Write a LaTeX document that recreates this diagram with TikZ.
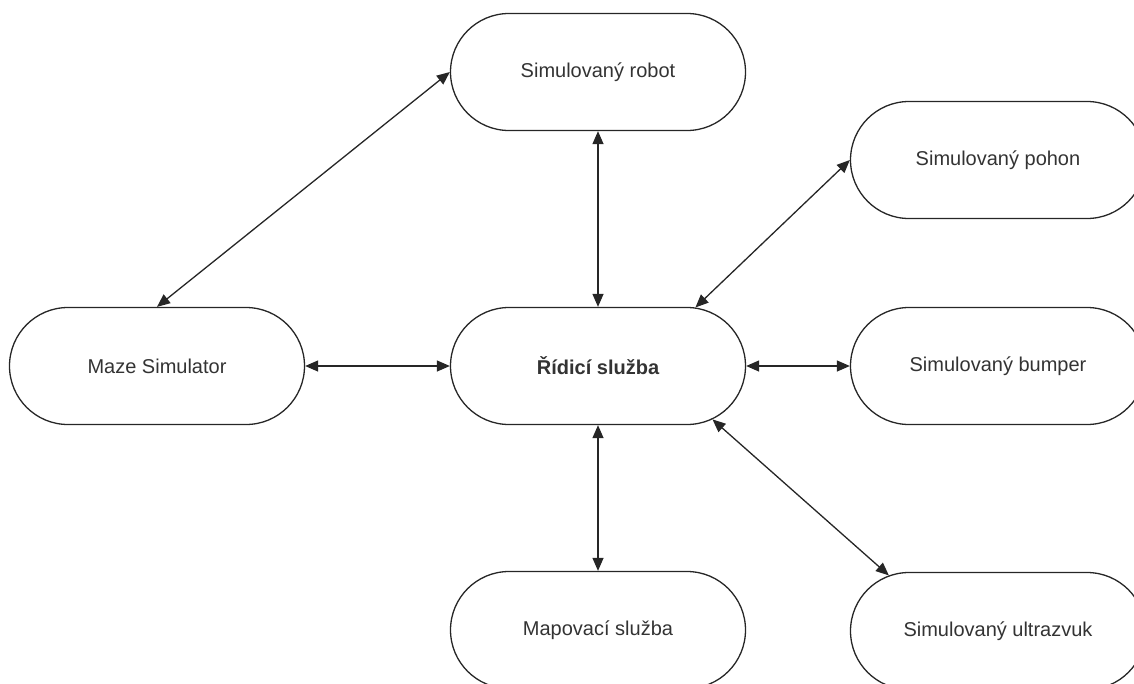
\documentclass[tikz,border=0pt]{standalone}
\usepackage{fontspec}
\setmainfont{Liberation Sans}
\usetikzlibrary{shapes.misc,arrows.meta}
\begin{document}
\begin{tikzpicture}[x=1pt,y=-1pt,
  block/.style={rounded rectangle, draw=black!85, line width=1.3pt,
    minimum width=295pt, minimum height=117pt, inner sep=0pt,
    font=\fontsize{20}{24}\selectfont, text=black!80},
  link/.style={draw=black!85, line width=1.3pt,
    {Triangle[length=13pt,width=11pt]}-{Triangle[length=13pt,width=11pt]}}]
\useasboundingbox (0,0) rectangle (1134,683);
\clip (0,0) rectangle (1134,683);
% service nodes
\node[block] (robot)  at (598,72)  {Simulovaný robot};
\node[block] (pohon)  at (998,160) {Simulovaný pohon};
\node[block] (maze)   at (157,366) {Maze Simulator};
\node[block] (ridici) at (598,366) {\bfseries Řídicí služba};
\node[block] (bumper) at (998,366) {Simulovaný bumper};
\node[block] (mapa)   at (598,630) {Mapovací služba};
\node[block] (ultra)  at (998,631) {Simulovaný ultrazvuk};
% bidirectional links
\draw[link] (maze.north) -- (robot.west);
\draw[link] (robot.south) -- (ridici.north);
\draw[link] (ridici.31) -- (pohon.west);
\draw[link] (maze.east) -- (ridici.west);
\draw[link] (ridici.east) -- (bumper.west);
\draw[link] (ridici.south) -- (mapa.north);
\draw[link] (ridici.-25) -- (ultra.153);
\end{tikzpicture}
\end{document}
